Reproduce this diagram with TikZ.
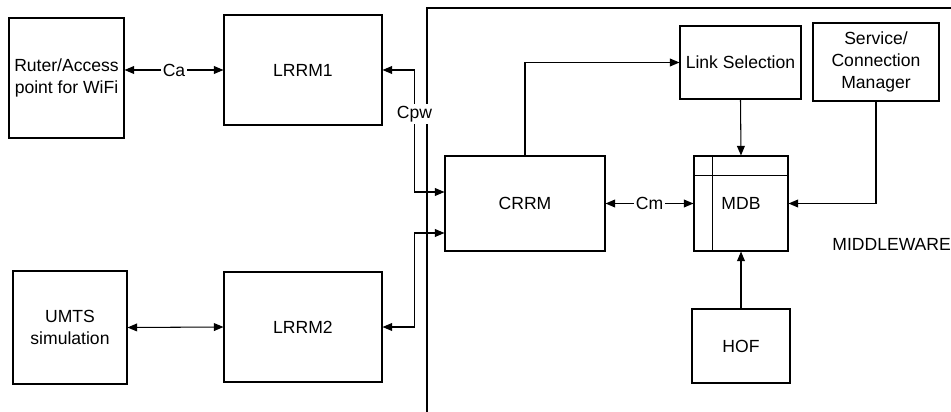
\documentclass[tikz,border=0pt]{standalone}
\usepackage{fontspec}
\setmainfont{Liberation Sans}
\usepackage{tikz}
\usetikzlibrary{arrows.meta,calc}

\begin{document}
\begin{tikzpicture}[x=0.02cm, y=-0.02cm, line width=0.6pt,
    font=\fontsize{10}{12.5}\selectfont]
        \tikzset{Block/.style={draw, align=center, inner sep=0pt},
        Link/.style={{Triangle[length=5.5pt,width=4.5pt]}-{Triangle[length=5.5pt,width=4.5pt]}},
        OneWay/.style={-{Triangle[length=5.5pt,width=4.5pt]}},
        Tag/.style={fill=white, inner sep=1pt}}
        \useasboundingbox (0,0) rectangle (951,412);
        \draw (960,8) -- (427,8) -- (427,420);
        \node[Block, minimum width=115*0.02cm, minimum height=120*0.02cm] (R) at (66.5,78) {Ruter/Access\\point for WiFi};
        \node[Block, minimum width=158*0.02cm, minimum height=110*0.02cm] (L1) at (303,70) {LRRM1};
        \node[Block, minimum width=114*0.02cm, minimum height=113*0.02cm] (U) at (70,327.5) {UMTS\\simulation};
        \node[Block, minimum width=158*0.02cm, minimum height=110*0.02cm] (L2) at (303,327) {LRRM2};
        \node[Block, minimum width=160*0.02cm, minimum height=95*0.02cm] (C) at (525,203.5) {CRRM};
        \node[Block, minimum width=94*0.02cm, minimum height=95*0.02cm] (M) at (741,203.5) {MDB};
        \node[Block, minimum width=121*0.02cm, minimum height=73*0.02cm] (LS) at (740.5,62.5) {Link Selection};
        \node[Block, minimum width=126*0.02cm, minimum height=78*0.02cm] (S) at (876,62) {Service/\\Connection\\Manager};
        \node[Block, minimum width=98*0.02cm, minimum height=74*0.02cm] (H) at (741,346) {HOF};
        \node[anchor=west] (MW) at (826,244) {MIDDLEWARE};
        \draw ($(M.north west)+(19,0)$) -- ($(M.south west)+(19,0)$);
        \draw ($(M.north west)+(0,20)$) -- ($(M.north east)+(0,20)$);
        \draw[Link] (R.east |- L1.west) -- node[Tag]{Ca} (L1.west);
        \draw[Link] (U.east) -- (L2.west);
        \draw[Link] (L1.east) -- ++(32,0) |- node[Tag, pos=0.18]{Cpw} ($(C.west)+(0,-11.5)$);
        \draw[Link] (L2.east) -- ++(32,0) |- ($(C.west)+(0,29.5)$);
        \draw[Link] (C.east) -- node[Tag]{Cm} (M.west);
        \draw[OneWay] (C.north) |- (LS.west);
        \draw[OneWay] (LS.south) -- (M.north);
        \draw[OneWay] (S.south) |- (M.east);
        \draw[OneWay] (H.north) -- (M.south);
    \end{tikzpicture}
\end{document}
